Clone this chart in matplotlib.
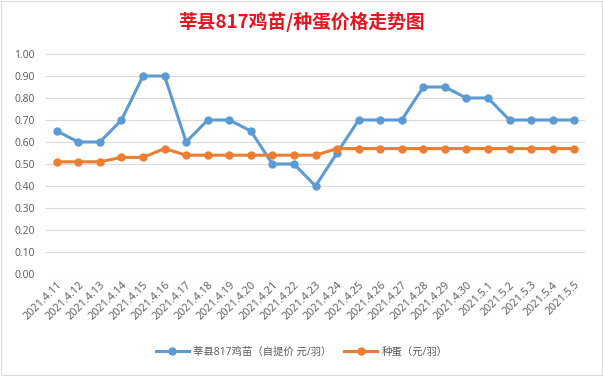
import matplotlib
matplotlib.use("Agg")
import matplotlib.pyplot as plt
import numpy as np

plt.rcParams['font.family'] = ['Noto Sans CJK SC', 'DejaVu Sans']

dates = ["2021.4.11", "2021.4.12", "2021.4.13", "2021.4.14", "2021.4.15", "2021.4.16",
         "2021.4.17", "2021.4.18", "2021.4.19", "2021.4.20", "2021.4.21", "2021.4.22",
         "2021.4.23", "2021.4.24", "2021.4.25", "2021.4.26", "2021.4.27", "2021.4.28",
         "2021.4.29", "2021.4.30", "2021.5.1", "2021.5.2", "2021.5.3", "2021.5.4", "2021.5.5"]
chick = [0.65, 0.60, 0.60, 0.70, 0.90, 0.90, 0.60, 0.70, 0.70, 0.65, 0.50, 0.50,
         0.40, 0.55, 0.70, 0.70, 0.70, 0.85, 0.85, 0.80, 0.80, 0.70, 0.70, 0.70, 0.70]
egg = [0.51, 0.51, 0.51, 0.53, 0.53, 0.57, 0.54, 0.54, 0.54, 0.54, 0.54, 0.54,
       0.54, 0.57, 0.57, 0.57, 0.57, 0.57, 0.57, 0.57, 0.57, 0.57, 0.57, 0.57, 0.57]
series_names = ["莘县817鸡苗（自提价 元/羽）", "种蛋（元/羽）"]
title = "莘县817鸡苗/种蛋价格走势图"
yticks = [0.0, 0.1, 0.2, 0.3, 0.4, 0.5, 0.6, 0.7, 0.8, 0.9, 1.0]

W, H = 603, 376
fig = plt.figure(figsize=(W / 100, H / 100), dpi=100)
ax = fig.add_axes([46 / W, 1 - 274 / H, (585 - 46) / W, (274 - 54) / H])

latin = ['Open Sans', 'Noto Sans CJK SC']
x = np.arange(len(dates))
blue = "#5B9BD5"
orange = "#ED7D31"
ax.plot(x, chick, color=blue, lw=2.2, marker='o', ms=5, label=series_names[0], zorder=3)
ax.plot(x, egg, color=orange, lw=2.2, marker='o', ms=5, label=series_names[1], zorder=3)

ax.set_xlim(-0.5, len(dates) - 0.5)
ax.set_ylim(0, 1.0)
ax.set_yticks(yticks)
ax.set_yticklabels([f"{v:.2f}" for v in yticks], fontsize=7.5, color="#595959", family=latin)
ax.set_xticks(x)
ax.set_xticklabels(dates, rotation=45, ha='right', rotation_mode='anchor',
                   fontsize=7.8, color="#595959", family=latin)
ax.tick_params(axis='both', length=0)
ax.tick_params(axis='y', pad=8)
ax.tick_params(axis='x', pad=4)
ax.grid(axis='y', color="#D9D9D9", lw=0.8)
ax.set_axisbelow(True)
for s in ax.spines.values():
    s.set_visible(False)

fig.text(0.5, 1 - 22 / H, title, ha='center', va='center', fontsize=13.5,
         fontweight='bold', color="#E8141E")

leg = fig.legend(loc='center', bbox_to_anchor=(0.5, 1 - 352 / H), ncol=2, frameon=False,
                 prop={'family': latin, 'size': 7.5},
                 handlelength=3.2, columnspacing=1.2, handletextpad=0.4)
for t in leg.get_texts():
    t.set_color("#595959")

# outer light border
fig.patches.append(plt.Rectangle((0.002, 0.003), 0.996, 0.994, transform=fig.transFigure,
                                 fill=False, edgecolor="#D9D9D9", lw=0.8))

fig.savefig("out.png", dpi=100)
